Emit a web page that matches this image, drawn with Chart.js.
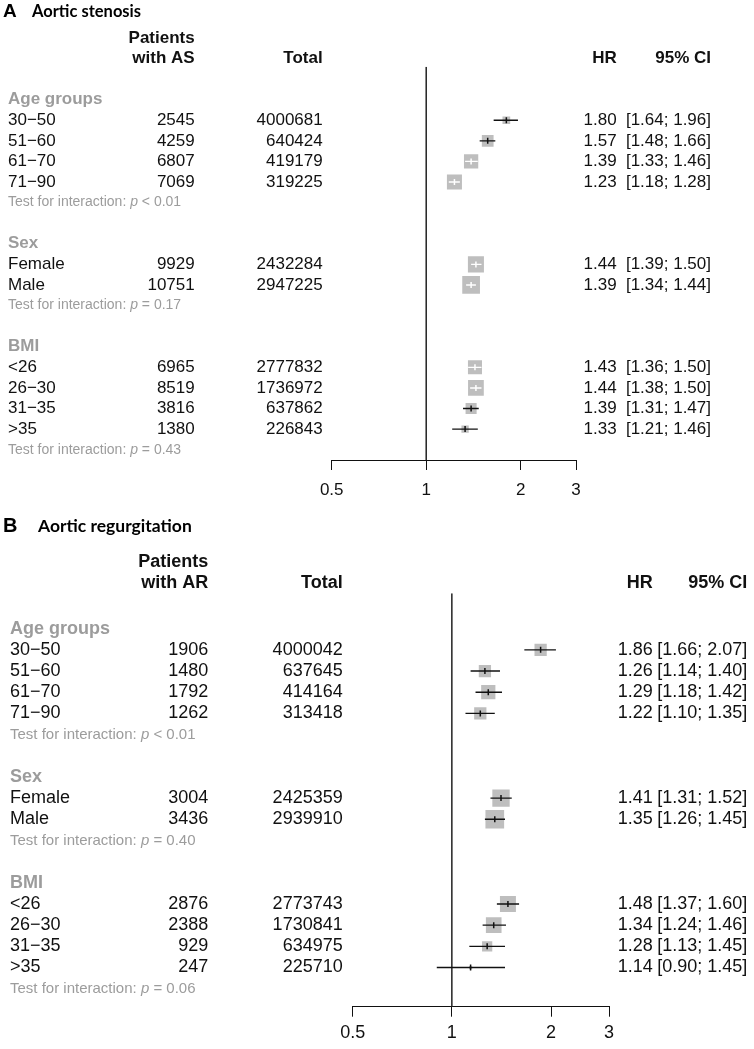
<!DOCTYPE html>
<html><head><meta charset="utf-8">
<script src="https://cdn.jsdelivr.net/npm/chart.js@4.4.1/dist/chart.umd.min.js"></script>
<style>html,body{margin:0;padding:0;background:#fff;}#wrap{position:relative;width:754px;height:1049px;}canvas{position:absolute;left:0;}</style>
</head><body><div id="wrap"><canvas id="cA" width="754" height="500" style="top:0"></canvas><canvas id="cB" width="754" height="549" style="top:500px"></canvas></div>
<script>
// ---------- DATA ----------
const groupNames = ['Age groups', 'Sex', 'BMI'];
const subgroupLabels = [['30−50', '51−60', '61−70', '71−90'], ['Female', 'Male'], ['<26', '26−30', '31−35', '>35']];
const xTickValues = [0.5, 1, 2, 3];
const nullEffect = 1;

// Panel A: Aortic stenosis
const asCases = [2545, 4259, 6807, 7069, 9929, 10751, 6965, 8519, 3816, 1380];
const asTotal = [4000681, 640424, 419179, 319225, 2432284, 2947225, 2777832, 1736972, 637862, 226843];
const asHR = [1.80, 1.57, 1.39, 1.23, 1.44, 1.39, 1.43, 1.44, 1.39, 1.33];
const asLower = [1.64, 1.48, 1.33, 1.18, 1.39, 1.34, 1.36, 1.38, 1.31, 1.21];
const asUpper = [1.96, 1.66, 1.46, 1.28, 1.50, 1.44, 1.50, 1.50, 1.47, 1.46];
const asWeight = [19, 44, 65, 72, 82, 100, 63, 79, 39, 17];
const asInteractionP = ['< 0.01', '= 0.17', '= 0.43'];

// Panel B: Aortic regurgitation
const arCases = [1906, 1480, 1792, 1262, 3004, 3436, 2876, 2388, 929, 247];
const arTotal = [4000042, 637645, 414164, 313418, 2425359, 2939910, 2773743, 1730841, 634975, 225710];
const arHR = [1.86, 1.26, 1.29, 1.22, 1.41, 1.35, 1.48, 1.34, 1.28, 1.14];
const arLower = [1.66, 1.14, 1.18, 1.10, 1.31, 1.26, 1.37, 1.24, 1.13, 0.90];
const arUpper = [2.07, 1.40, 1.42, 1.35, 1.52, 1.45, 1.60, 1.46, 1.45, 1.45];
const arWeight = [43, 43, 58, 43, 86, 100, 73, 70, 30, 3];
const arInteractionP = ['< 0.01', '= 0.40', '= 0.06'];

// ---------- ROW STRUCTURE ----------
function buildRows() {
  const head = [], rows = [], test = [];
  let i = 0;
  subgroupLabels.forEach((g) => {
    head.push(i); i++;
    g.forEach(() => { rows.push(i); i++; });
    test.push(i); i += 2;
  });
  return { head, rows, test };
}
const R = buildRows();
const labelsFlat = subgroupLabels.flat();

const SANS = '"Liberation Sans", Arial, Helvetica, sans-serif';

const forestText = {
  id: 'forestText',
  afterDraw(chart, args, o) {
    const ctx = chart.ctx, L = o.layout, D = o.data;
    const y = v => chart.scales.y.getPixelForValue(v);
    ctx.save();
    ctx.textBaseline = 'middle';
    // title
    ctx.fillStyle = '#000'; ctx.textAlign = 'left';
    ctx.font = `bold ${L.letterSize}px ${SANS}`;
    ctx.fillText(D.letter, L.letterX, L.titleY);
    ctx.font = `bold ${L.titleSize}px Lato, "Open Sans", sans-serif`;
    ctx.fillText(D.title, L.titleX, L.titleY);
    // column headers
    ctx.fillStyle = '#111'; ctx.textAlign = 'right';
    ctx.font = `bold ${L.fs}px ${SANS}`;
    ctx.fillText(D.caseHead[0], L.cases, y(L.head1));
    ctx.fillText(D.caseHead[1], L.cases, y(L.head2));
    ctx.fillText('Total', L.total, y(L.head2));
    ctx.fillText('HR', L.hr, y(L.head2));
    ctx.fillText('95% CI', L.ci, y(L.head2));
    // group headers
    ctx.textAlign = 'left'; ctx.fillStyle = '#9c9c9c';
    groupNames.forEach((g, k) => ctx.fillText(g, L.labelX, y(R.head[k])));
    // rows
    ctx.font = `${L.fs}px ${SANS}`; ctx.fillStyle = '#111';
    R.rows.forEach((ri, k) => {
      const yy = y(ri);
      ctx.textAlign = 'left';
      ctx.fillText(labelsFlat[k], L.labelX, yy);
      ctx.textAlign = 'right';
      ctx.fillText(String(D.cases[k]), L.cases, yy);
      ctx.fillText(String(D.total[k]), L.total, yy);
      ctx.fillText(D.hr[k].toFixed(2), L.hr, yy);
      ctx.fillText(`[${D.lo[k].toFixed(2)}; ${D.hi[k].toFixed(2)}]`, L.ci, yy);
    });
    // interaction tests
    ctx.textAlign = 'left'; ctx.fillStyle = '#9c9c9c';
    R.test.forEach((ti, k) => {
      const yy = y(ti);
      let x = L.labelX;
      ctx.font = `${L.testFs}px ${SANS}`;
      const a = 'Test for interaction: ';
      ctx.fillText(a, x, yy); x += ctx.measureText(a).width;
      ctx.font = `italic ${L.testFs}px ${SANS}`;
      ctx.fillText('p', x, yy); x += ctx.measureText('p').width;
      ctx.font = `${L.testFs}px ${SANS}`;
      ctx.fillText(' ' + D.p[k], x, yy);
    });
    ctx.restore();
  }
};

function makeChart(id, D, L) {
  const side = i => L.maxSide * Math.sqrt(D.weight[i] / 100);
  const inside = (chart, i) => {
    const xs = chart.scales.x;
    return (xs.getPixelForValue(D.hi[i]) - xs.getPixelForValue(D.lo[i])) <= side(i);
  };
  const ciData = [];
  R.rows.forEach((ri, k) => {
    ciData.push({ x: D.lo[k], y: ri }, { x: D.hi[k], y: ri }, { x: null, y: null });
  });
  return new Chart(document.getElementById(id), {
    type: 'scatter',
    data: {
      datasets: [
        { type: 'line', order: 4, data: [{ x: nullEffect, y: L.yMin }, { x: nullEffect, y: L.yMax }],
          borderColor: '#222', borderWidth: 1.5, pointRadius: 0, tension: 0 },
        { type: 'scatter', order: 3, data: R.rows.map((ri, k) => ({ x: D.hr[k], y: ri })),
          pointStyle: 'rect', backgroundColor: '#bebebe', borderWidth: 0,
          pointRadius: c => side(c.dataIndex) / (2 * Math.SQRT1_2) },
        { type: 'line', order: 2, data: ciData, pointRadius: 0, borderWidth: 1.4, spanGaps: false, tension: 0,
          borderColor: '#111',
          segment: { borderColor: c => ((c.p1.x - c.p0.x) <= side(Math.floor(c.p0DataIndex / 3)) ? '#fff' : '#111') } },
        { type: 'scatter', order: 1, data: R.rows.map((ri, k) => ({ x: D.hr[k], y: ri })),
          pointStyle: 'line', rotation: 90, pointRadius: 3, borderWidth: 1.5, backgroundColor: 'transparent',
          borderColor: c => (inside(c.chart, c.dataIndex) ? '#fff' : '#111') }
      ]
    },
    options: {
      responsive: false, animation: false, events: [],
      layout: { padding: { left: L.left, right: 754 - L.right, top: L.top, bottom: 0 } },
      plugins: { legend: { display: false }, tooltip: { enabled: false }, forestText: { layout: L, data: D } },
      scales: {
        x: { type: 'logarithmic', min: 0.5, max: 3, position: 'bottom',
          afterBuildTicks: s => { s.ticks = xTickValues.map(v => ({ value: v })); },
          afterFit: s => { s.height = L.axisH; },
          ticks: { callback: v => String(v), color: '#111', font: { family: SANS, size: L.fs }, padding: L.tickPad, maxRotation: 0, autoSkip: false },
          grid: { drawOnChartArea: false, drawTicks: true, tickLength: 10, color: '#111', lineWidth: 1 },
          border: { display: true, color: '#111', width: 1 } },
        y: { type: 'linear', reverse: true, min: L.yMin, max: L.yMax, display: false }
      }
    },
    plugins: [forestText]
  });
}

makeChart('cA',
  { letter: 'A', title: 'Aortic stenosis', caseHead: ['Patients', 'with AS'], cases: asCases, total: asTotal,
    hr: asHR, lo: asLower, hi: asUpper, weight: asWeight, p: asInteractionP },
  { left: 331.7, right: 576, top: 66.7, yMin: -1.6, yMax: 17.5, axisH: 40, tickPad: 10, fs: 17, testFs: 14,
    labelX: 8, cases: 194.7, total: 322.7, hr: 616.7, ci: 711, head1: -3, head2: -2,
    letterX: 3, letterSize: 19, titleX: 32, titleSize: 16.5, titleY: 12, maxSide: 17.7 });

makeChart('cB',
  { letter: 'B', title: 'Aortic regurgitation', caseHead: ['Patients', 'with AR'], cases: arCases, total: arTotal,
    hr: arHR, lo: arLower, hi: arUpper, weight: arWeight, p: arInteractionP },
  { left: 352.7, right: 609, top: 93.3, yMin: -1.67, yMax: 17.85, axisH: 42.3, tickPad: 6, fs: 18, testFs: 15,
    labelX: 10, cases: 208.3, total: 342.7, hr: 652.7, ci: 747.3, head1: -3.15, head2: -2.15,
    letterX: 3, letterSize: 20, titleX: 38, titleSize: 17.5, titleY: 26.7, maxSide: 18.7 });
</script></body></html>
